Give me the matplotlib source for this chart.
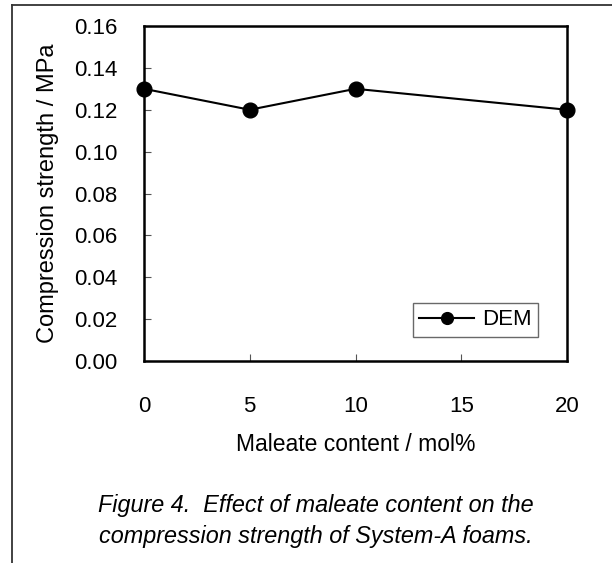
import matplotlib
matplotlib.use("Agg")
import matplotlib.pyplot as plt
from matplotlib.lines import Line2D

plt.rcParams["font.family"] = ["Liberation Sans", "DejaVu Sans"]

maleate = [0, 5, 10, 20]
strength = [0.13, 0.12, 0.13, 0.12]
series_label = "DEM"
x_ticks = [0, 5, 10, 15, 20]
y_ticks = [0.00, 0.02, 0.04, 0.06, 0.08, 0.10, 0.12, 0.14, 0.16]

W, H = 612, 563
FS = 16
fig = plt.figure(figsize=(W / 100, H / 100), dpi=100)
L, R, T, B = 144, 567, 26, 361
ax = fig.add_axes([L / W, 1 - B / H, (R - L) / W, (B - T) / H])

ax.plot(maleate, strength, color="black", linewidth=1.5, marker="o",
        markersize=10.6, markerfacecolor="black", clip_on=False,
        label=series_label, zorder=5)

ax.set_xlim(0, 20)
ax.set_ylim(0, 0.16)
ax.set_xticks(x_ticks)
ax.set_yticks(y_ticks)
ax.set_yticklabels([f"{v:.2f}" for v in y_ticks])
ax.tick_params(axis="both", direction="in", length=5, width=0.8,
               color="#555555", labelsize=FS)
ax.tick_params(axis="x", pad=25)
ax.tick_params(axis="y", pad=19)
for s in ax.spines.values():
    s.set_linewidth(1.8)

ax.set_xlabel("Maleate content / mol%", fontsize=16.5, labelpad=12)
ax.set_ylabel("Compression strength / MPa", fontsize=17, labelpad=11)

leg = ax.legend(loc="lower right", fontsize=FS, frameon=True, fancybox=False,
                bbox_to_anchor=((538 - L) / (R - L), (B - 336.7) / (B - T)),
                borderaxespad=0, handlelength=2.47, handletextpad=0.36,
                borderpad=0.28, markerscale=0.8)
leg.get_frame().set_edgecolor("#444444")
leg.get_frame().set_linewidth(1.0)

# page frame lines
fig.add_artist(Line2D([11.5 / W, 1], [1 - 4.5 / H, 1 - 4.5 / H],
                      color="#333333", linewidth=1.3))
fig.add_artist(Line2D([11.5 / W, 11.5 / W], [1 - 4.5 / H, 0],
                      color="#333333", linewidth=1.3))

fig.text(316 / W, 1 - 511.7 / H, "Figure 4.  Effect of maleate content on the",
         ha="center", va="baseline", fontsize=16.8, style="italic")
fig.text(316 / W, 1 - 543 / H, "compression strength of System-A foams.",
         ha="center", va="baseline", fontsize=16.8, style="italic")

fig.savefig("out.png", dpi=100)
